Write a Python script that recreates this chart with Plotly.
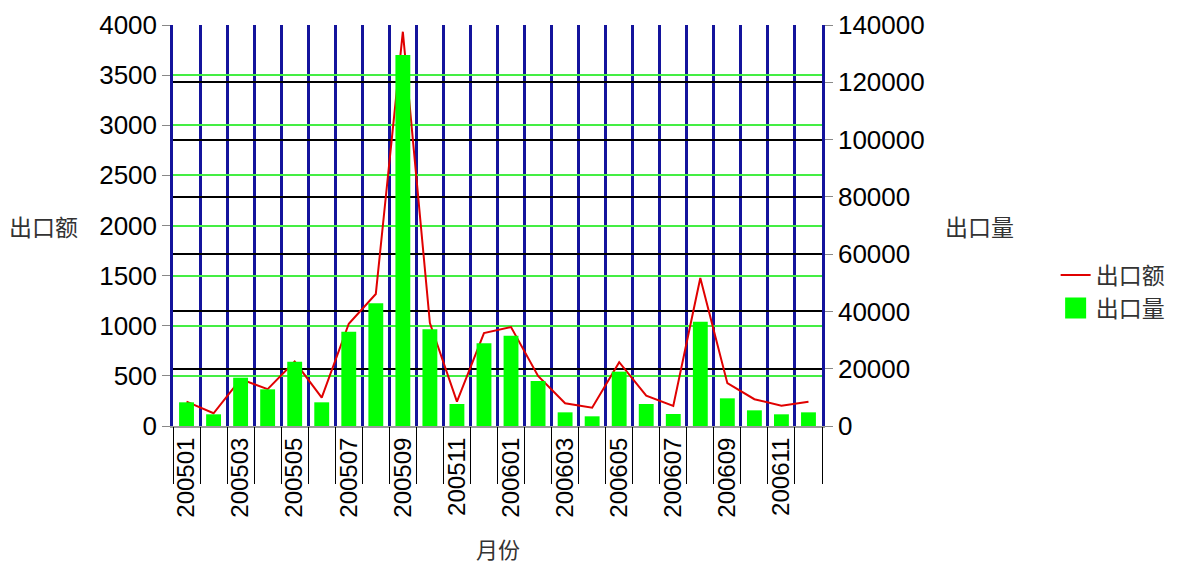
import plotly.graph_objects as go

months = ["200501","200502","200503","200504","200505","200506","200507","200508",
          "200509","200510","200511","200512","200601","200602","200603","200604",
          "200605","200606","200607","200608","200609","200610","200611","200612"]
export_value = [243, 127, 467, 367, 643, 283, 1020, 1317, 3933, 1027, 243, 927,
                987, 500, 227, 183, 637, 303, 200, 1477, 427, 267, 203, 243]
export_volume = [8270, 4080, 16870, 12800, 22450, 8270, 32930, 42820, 129500, 33750, 7680, 28860,
                 31530, 15710, 4770, 3380, 18970, 7680, 4190, 36420, 9660, 5470, 4080, 4770]
tick_text = [m if i % 2 == 0 else "" for i, m in enumerate(months)]

bar_color = "#00ff00"
navy = "#14149c"
fig = go.Figure()
fig.add_trace(go.Scatter(x=months, y=export_value, name="出口额", mode="lines",
                         line=dict(color="#e00000", width=2), yaxis="y"))
fig.add_trace(go.Bar(x=months, y=export_volume, name="出口量", marker_color=bar_color,
                     marker_line_width=0, yaxis="y2", showlegend=False))
# legend entry for the bars (large square swatch)
fig.add_trace(go.Scatter(x=[months[0]], y=[None], name="出口量", mode="markers", yaxis="y2",
                         marker=dict(symbol="square", size=16, color=bar_color,
                                     line=dict(color=bar_color, width=5)),
                         hoverinfo="skip"))
# invisible helper for boundary tick marks
fig.add_trace(go.Scatter(x=[0], y=[0], xaxis="x2", yaxis="y", mode="markers",
                         marker=dict(opacity=0), showlegend=False, hoverinfo="skip"))

cjk = "Noto Sans CJK SC"
fig.update_layout(
    width=1181, height=567,
    margin=dict(l=173, r=359, t=25, b=141, autoexpand=False),
    plot_bgcolor="white", paper_bgcolor="white",
    bargap=0.45,
    xaxis=dict(type="category", categoryorder="array", categoryarray=months,
               tickson="boundaries", showgrid=True, gridcolor=navy, gridwidth=2.5,
               tickmode="array", tickvals=months, ticktext=tick_text, tickangle=-90,
               ticks="", showline=True, linecolor="#999999", linewidth=2, automargin=False,
               tickfont=dict(family="Liberation Sans", size=24, color="black"),
               range=[-0.5, 23.5]),
    xaxis2=dict(type="linear", overlaying="x", anchor="y", side="bottom",
                range=[-0.5, 23.5], tick0=-0.5, dtick=1, ticks="outside", ticklen=57,
                tickcolor="black", tickwidth=1, showticklabels=False, showgrid=False,
                zeroline=False, showline=False, automargin=False),
    yaxis=dict(range=[0, 4000], dtick=500, showgrid=True, gridcolor="#44ee44", gridwidth=2,
               zeroline=False, ticks="outside", ticklen=8, tickcolor="#888888",
               showline=True, linecolor=navy, linewidth=2.5, automargin=False,
               tickfont=dict(family="Liberation Sans", size=26, color="black")),
    yaxis2=dict(range=[0, 140000], dtick=20000, overlaying="y", side="right",
                showgrid=True, gridcolor="black", gridwidth=2, zeroline=False,
                ticks="outside", ticklen=8, tickcolor="#888888", tickformat="d",
                showline=True, linecolor=navy, linewidth=2.5, automargin=False,
                tickfont=dict(family="Liberation Sans", size=26, color="black")),
    legend=dict(x=1.36, y=0.43, xanchor="left", yanchor="top",
                font=dict(family=cjk, size=23, color="#333333"),
                bgcolor="rgba(0,0,0,0)", itemwidth=30, itemsizing="trace"),
    showlegend=True,
    annotations=[
        dict(text="出口额", xref="paper", yref="paper", x=-0.199, y=0.5, xanchor="center",
             yanchor="middle", showarrow=False, font=dict(family=cjk, size=23, color="#333333")),
        dict(text="出口量", xref="paper", yref="paper", x=1.243, y=0.5, xanchor="center",
             yanchor="middle", showarrow=False, font=dict(family=cjk, size=23, color="#333333")),
        dict(text="月份", xref="paper", yref="paper", x=0.5, y=-0.305, xanchor="center",
             yanchor="middle", showarrow=False, font=dict(family=cjk, size=22, color="#333333")),
    ],
)
fig.write_html("out.html", post_script="document.body.style.margin='0';",
               config={"displayModeBar": False})
